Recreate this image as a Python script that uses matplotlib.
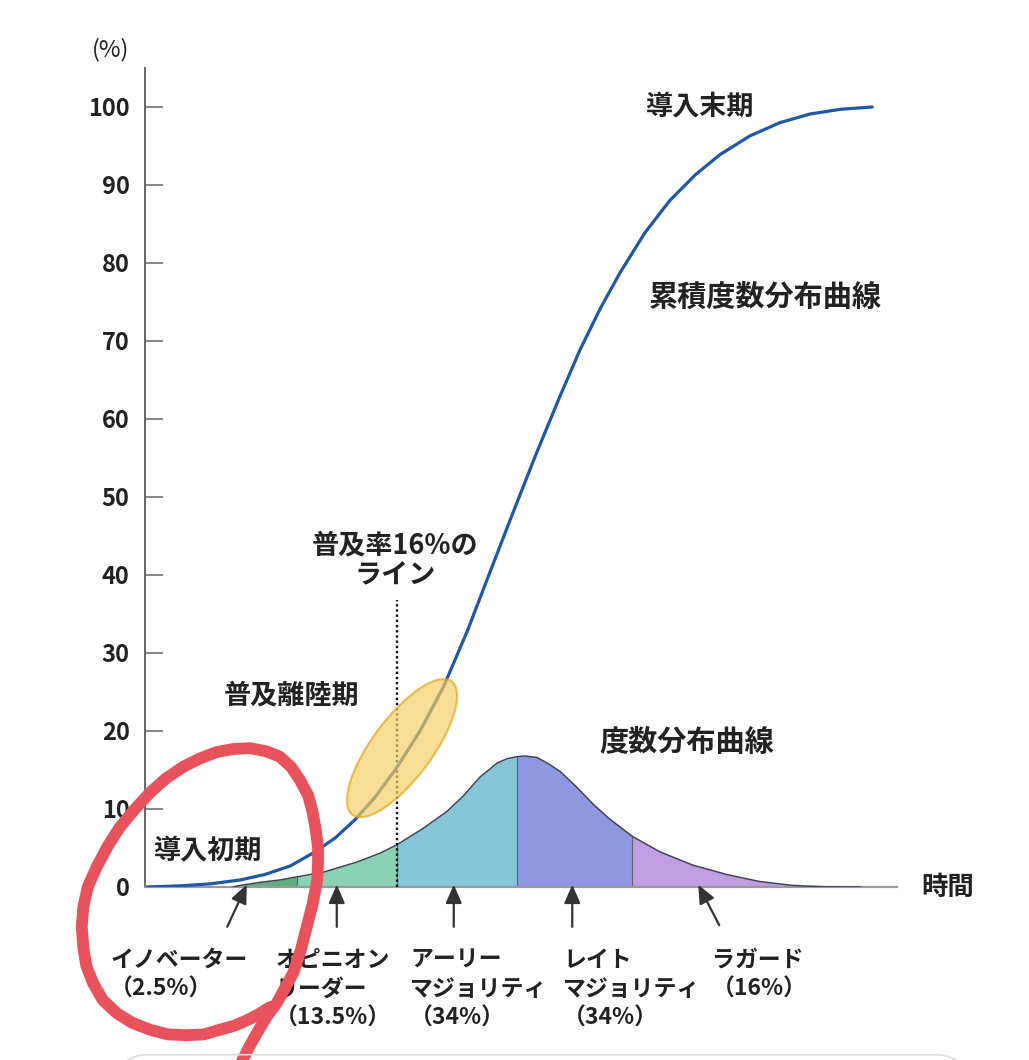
import matplotlib

matplotlib.use("Agg")
import matplotlib.pyplot as plt
from matplotlib.patches import Ellipse, FancyBboxPatch

plt.rcParams["font.family"] = ["Noto Sans CJK JP", "DejaVu Sans"]

# cumulative adoption curve (time units 0-100, percent)
cum_t = [0, 4.4, 8.4, 12.4, 15.7, 19.1, 22.4, 25.1, 27.7, 30.4, 33.3, 36.4,
         39.5, 42.7, 45.7, 48.8, 52.0, 55.1, 57.7, 60.4, 63.1, 66.4, 69.7,
         73.1, 76.4, 80.4, 84.4, 88.4, 92.4, 96.7]
cum_v = [0, 0.15, 0.4, 0.9, 1.6, 2.7, 4.5, 6.3, 8.6, 11.5, 15.3, 20.0,
         25.6, 32.8, 40.3, 48.0, 55.8, 63.0, 68.8, 74.1, 78.8, 83.9, 88.0,
         91.3, 93.9, 96.3, 98.0, 99.1, 99.7, 100]

# frequency distribution curve
bell_t = [11.5, 12.4, 15.1, 17.7, 20, 23.5, 28, 31.1, 33.3, 36.8, 40, 42.1,
          44.4, 46.7, 48.0, 49.3, 50.4, 52, 53.7, 55.1, 57.3, 59.5, 61.7,
          64.7, 68.4, 72.8, 77.3, 81.7, 86.1, 90.5, 95.1]
bell_v = [0, 0.2, 0.6, 0.9, 1.3, 1.9, 3.2, 4.35, 5.4, 7.5, 9.7, 11.6,
          14.1, 15.9, 16.45, 16.7, 16.8, 16.6, 15.7, 14.8, 12.8, 10.6, 8.7,
          6.5, 4.5, 2.8, 1.6, 0.7, 0.2, 0.03, 0]

# adopter segment boundaries and colours
seg_edges = [11.5, 20, 33.3, 49.3, 64.7, 95.1]
seg_colors = ["#62ad7c", "#8ad2b3", "#86c5da", "#8f97e2", "#c19ee2"]

adopter_labels = [
    ["イノベーター", "（2.5%）"],
    ["オピニオン", "リーダー", "（13.5%）"],
    ["アーリー", "マジョリティ", "（34%）"],
    ["レイト", "マジョリティ", "（34%）"],
    ["ラガード", "（16%）"],
]
label_x = [-4.9, 17.1, 35.1, 55.5, 75.3]
arrow_tail = [(10.7, -5.1), (25.3, -5.1), (40.9, -5.1), (56.7, -5.1), (76.3, -4.9)]
arrow_head = [(13.3, 0.3), (25.3, 0.3), (40.9, 0.3), (56.7, 0.3), (73.5, 0.3)]

line16_t = 33.3
line16_top = 36.8

# hand-drawn red loop on top of the picture
loop_t = [12.4, 13.9, 15.1, 16.1, 17.3, 19.5, 20.5, 21.3, 22.1, 22.7, 22.8,
          22.8, 22.5, 22.1, 21.5, 20.4, 19.2, 17.7, 15.9, 13.7, 11.5, 9.3,
          7.1, 4.8, 2.5, 0.4, -1.6, -3.6, -5.2, -6.7, -7.9, -8.5, -8.7, -8.5,
          -8.1, -7.2, -5.9, -4.0, -2.0, 0.4, 2.8, 5.3, 7.6, 9.7, 11.6, 13.3,
          14.9, 16.4]
loop_v = [-22.8, -20.0, -18.0, -16.4, -14.9, -11.0, -8.1, -5.1, -2.1, 0.9,
          3.1, 5.1, 7.3, 9.5, 11.7, 13.7, 15.4, 16.7, 17.4, 17.8, 17.7, 17.3,
          16.5, 15.4, 13.9, 12.1, 10.0, 7.7, 5.3, 2.6, 0, -2.6, -5.1, -7.7,
          -10.1, -12.3, -14.5, -16.2, -17.4, -18.3, -18.9, -19.0, -18.9,
          -18.3, -17.8, -17.1, -16.3, -15.4]

fig = plt.figure(figsize=(10.29, 10.6), dpi=100)
ax = fig.add_axes([145 / 1029, 173 / 1060, 752 / 1029, 819 / 1060])
ax.set_xlim(-0.27, 100)
ax.set_ylim(0, 105)

for s in ["top", "right"]:
    ax.spines[s].set_visible(False)
ax.spines["left"].set_color("#666666")
ax.spines["left"].set_linewidth(1.4)
ax.spines["bottom"].set_color("#9a9a9a")
ax.spines["bottom"].set_linewidth(1.6)
ax.set_xticks([])
ax.set_yticks(range(0, 101, 10))
ax.tick_params(axis="y", direction="in", length=13, width=1.1, color="#666666",
               pad=11, labelsize=17, labelcolor="#222222")
for lab in ax.get_yticklabels():
    lab.set_fontweight("bold")

# bell segments
for i, c in enumerate(seg_colors):
    lo, hi = seg_edges[i], seg_edges[i + 1]
    xs = [t for t in bell_t if lo <= t <= hi]
    ys = [v for t, v in zip(bell_t, bell_v) if lo <= t <= hi]
    ax.fill_between(xs, 0, ys, color=c, lw=0, zorder=1)
for e in seg_edges[1:-1]:
    ax.vlines(e, 0, bell_v[bell_t.index(e)], color="#5c6070", lw=0.8, zorder=2)
ax.plot(bell_t, bell_v, color="#3e4656", lw=1.1, zorder=3,
        solid_joinstyle="round")

# 16% line
ax.vlines(line16_t, 0, line16_top, color="#111111", lw=1.7,
          linestyles=(0, (1, 1.2)), zorder=4)

# cumulative curve
ax.plot(cum_t, cum_v, color="#1f58a5", lw=2.3, zorder=5,
        solid_capstyle="round", solid_joinstyle="round")

# chasm ellipse
ax.add_patch(Ellipse((34.0, 17.8), 21.6, 7.9, angle=52, facecolor="#f4cd63",
                     edgecolor="#e0a91c", lw=1.6, alpha=0.68, zorder=6))

# texts
txt = dict(color="#222222", ha="center", va="center", fontweight="bold")
ax.text(-4.9, 107.4, "(%)", fontsize=17, clip_on=False,
        **dict(txt, fontweight="normal"))
ax.text(73.6, 100, "導入末期", fontsize=19.5, **txt)
ax.text(82.4, 75.6, "累積度数分布曲線", fontsize=21, **txt)
ax.text(33.1, 43.8, "普及率16%の", fontsize=19.5, **txt)
ax.text(33.1, 39.9, "ライン", fontsize=19.5, **txt)
ax.text(19.3, 24.6, "普及離陸期", fontsize=19.5, **txt)
ax.text(72.0, 18.6, "度数分布曲線", fontsize=21, **txt)
ax.text(8.0, 4.7, "導入初期", fontsize=19.5, **txt)
ax.text(103.3, 0, "時間", fontsize=19, color="#222222", ha="left",
        va="center", fontweight="bold", clip_on=False)

for lines, x in zip(adopter_labels, label_x):
    for k, line in enumerate(lines):
        ax.text(x, -9.4 - k * 3.7, line, fontsize=16.5, color="#222222",
                ha="left", va="center", fontweight="bold", clip_on=False)

for tail, head in zip(arrow_tail, arrow_head):
    ax.annotate("", xy=head, xytext=tail, annotation_clip=False,
                arrowprops=dict(arrowstyle="-|>,head_length=0.8,head_width=0.35",
                                mutation_scale=14, color="#333333", lw=1.6,
                                shrinkA=0, shrinkB=0))

# red marker loop
ax.plot(loop_t, loop_v, color="#e8525a", lw=8.5, solid_capstyle="round",
        solid_joinstyle="round", clip_on=False, zorder=10)

# faint panel edge at the bottom of the screenshot
fig.add_artist(FancyBboxPatch((117 / 1029, -0.05), 848 / 1029, 0.055,
                              boxstyle="round,pad=0,rounding_size=0.03",
                              transform=fig.transFigure, facecolor="none",
                              edgecolor="#dddddd", lw=1.2))

fig.savefig("out.png", dpi=100)
